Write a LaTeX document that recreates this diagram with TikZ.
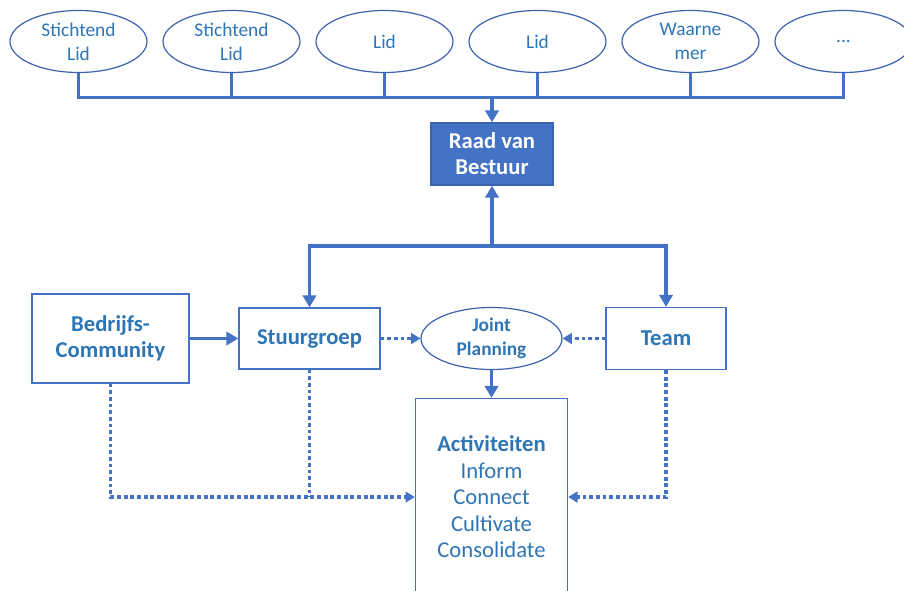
\documentclass[tikz,border=0pt]{standalone}
\usepackage{fontspec}
\setmainfont{Carlito}
\usetikzlibrary{positioning,shapes.geometric,arrows.meta}
\definecolor{accent}{HTML}{4472C4}
\definecolor{labeltxt}{HTML}{2E75B6}
\definecolor{rim}{HTML}{3B62AE}

\begin{document}
\begin{tikzpicture}[x=0.75pt,y=-0.75pt,node distance=114.75pt,on grid,
    lid/.style={ellipse,draw=rim,line width=0.9pt,inner sep=0pt,minimum width=102.75pt,minimum height=46.5pt,
      text=labeltxt,align=center,font=\fontsize{14.5}{18}\selectfont},
    box/.style={rectangle,draw=accent,line width=1pt,inner sep=0pt,text=labeltxt,align=center,
      font=\fontsize{17}{19.5}\selectfont\bfseries},
    link/.style={accent,line width=2.6pt},
    arr/.style={link,-{Triangle[length=9pt,width=10pt]}},
    dots/.style={accent,line width=2.8pt,dash pattern=on 2.8pt off 2.2pt},
    dotarr/.style={dots,-{Triangle[length=7pt,width=8pt]}}]
    \useasboundingbox (0,0) rectangle (904,591);
    \clip (0,0) rectangle (904,591);
    \node[lid] (lid_1) at (78.5,41.5)    {Stichtend\\Lid};
    \node[lid] (lid_2) [right=of lid_1]  {Stichtend\\Lid};
    \node[lid] (lid_3) [right=of lid_2]  {Lid};
    \node[lid] (lid_4) [right=of lid_3]  {Lid};
    \node[lid] (lid_5) [right=of lid_4]  {Waarne\\mer};
    \node[lid] (lid_6) [right=of lid_5]  {...};
    \node[box,fill=accent,draw=rim,text=white,minimum width=91.5pt,minimum height=46.5pt] (raad) at (492,154) {Raad van\\Bestuur};
    \node[box,minimum width=105.75pt,minimum height=45.75pt] (stuur) at (309.5,338.5) {Stuurgroep};
    \node[box,minimum width=117.75pt,minimum height=66.75pt] (bedrijf) [left=149.25pt of stuur] {Bedrijfs-\\Community};
    \node[lid,draw=rim,minimum width=105.75pt,font=\fontsize{14.5}{18}\selectfont\bfseries] (joint) [right=136.5pt of stuur] {Joint\\Planning};
    \node[box,minimum width=90pt,minimum height=46.5pt] (team) [right=130.9pt of joint] {Team};
    \node[box,minimum width=114pt,minimum height=147.75pt,font=\fontsize{17}{19.9}\selectfont] (act) [below=118.9pt of joint]
      {\textbf{Activiteiten}\\Inform\\Connect\\Cultivate\\Consolidate};
    \coordinate (bus) at (492,97.5);
    \coordinate (fork) at (492,246);
    \draw[link] (lid_1.south) |- (bus) -| (lid_6.south);
    \foreach \i in {2,...,5}
      \draw[link] (lid_\i.south) -- (lid_\i.south |- bus);
    \draw[arr] (bus) -- (raad);
    \draw[arr] (fork) -- (raad);
    \draw[arr] (fork) -| (stuur);
    \draw[arr] (fork) -| (team);
    \draw[arr] (bedrijf) -- (stuur);
    \draw[arr] (joint) -- (act);
    \draw[dotarr] (stuur) -- (joint);
    \draw[dotarr] (team) -- (joint);
    \draw[dotarr] (bedrijf) |- (act);
    \draw[dots] (stuur) -- (stuur |- act);
    \draw[dotarr] (team) |- (act);
\end{tikzpicture}
\end{document}
